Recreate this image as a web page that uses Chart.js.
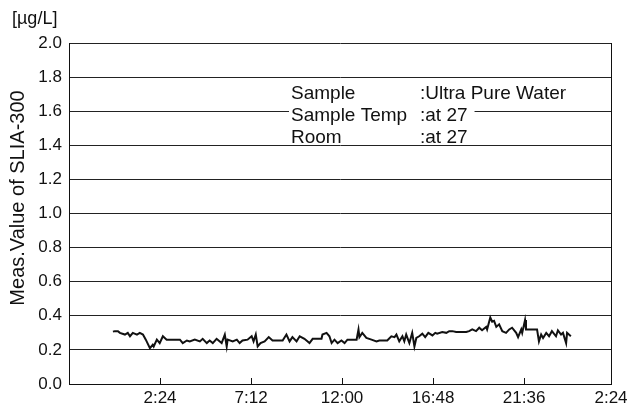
<!DOCTYPE html>
<html>
<head>
<meta charset="utf-8">
<script src="https://cdn.jsdelivr.net/npm/chart.js@4/dist/chart.umd.min.js"></script>
<style>
html,body{margin:0;padding:0;background:#fff;}
#wrap{width:630px;height:405px;position:relative;}
</style>
</head>
<body>
<div id="wrap"><canvas id="c" width="630" height="405"></canvas></div>
<script>
// minutes from the left edge of the time axis (21:36 of the previous day)
const timesMin = [139,145,155,161,177,186,193,202,215,224,234,243,256,265,268,278,287,297,309,319,351,360,373,382,398,414,423,436,445,455,467,483,493,499,502,518,531,540,549,565,578,584,591,597,606,619,632,644,676,688,698,707,720,730,745,761,771,786,799,802,815,824,831,840,850,862,872,881,910,916,919,928,941,957,973,982,1007,1020,1030,1036,1045,1055,1061,1067,1077,1086,1093,1099,1108,1118,1127,1137,1150,1159,1165,1181,1194,1203,1213,1225,1257,1266,1276,1288,1298,1307,1320,1323,1333,1339,1345,1352,1361,1371,1383,1393,1402,1415,1421,1431,1434,1443,1446,1456,1481,1487,1494,1500,1510,1519,1528,1541,1547,1557,1563,1573,1576,1588];
const measValues = [0.307,0.31,0.31,0.30,0.29,0.30,0.28,0.30,0.29,0.30,0.29,0.26,0.21,0.23,0.22,0.26,0.24,0.28,0.26,0.26,0.26,0.24,0.255,0.25,0.26,0.25,0.265,0.24,0.255,0.24,0.265,0.24,0.29,0.22,0.26,0.25,0.26,0.24,0.255,0.26,0.28,0.25,0.29,0.22,0.24,0.25,0.275,0.255,0.255,0.29,0.25,0.275,0.25,0.28,0.265,0.24,0.265,0.265,0.265,0.29,0.30,0.28,0.24,0.26,0.24,0.255,0.24,0.26,0.26,0.32,0.275,0.30,0.27,0.26,0.25,0.255,0.255,0.28,0.275,0.29,0.25,0.28,0.25,0.29,0.24,0.30,0.22,0.27,0.28,0.295,0.275,0.30,0.285,0.30,0.295,0.305,0.30,0.31,0.31,0.305,0.305,0.31,0.32,0.31,0.33,0.315,0.335,0.32,0.39,0.365,0.37,0.335,0.35,0.31,0.30,0.32,0.33,0.30,0.275,0.32,0.30,0.375,0.32,0.32,0.32,0.25,0.29,0.27,0.30,0.28,0.31,0.28,0.315,0.29,0.30,0.24,0.30,0.28];
const xTickValues = [288,576,864,1152,1440,1715];
const xTickLabels = ['2:24','7:12','12:00','16:48','21:36','2:24'];
const xMin = 0, xMax = 1715;
const yMin = 0, yMax = 2.0, yStep = 0.2;
const unitLabel = '[µg/L]';
const yTitle = 'Meas.Value of SLIA-300';
const noteKeys = ['Sample','Sample Temp','Room'];
const noteVals = [':Ultra Pure Water',':at 27',':at 27'];

const FONT = "'Liberation Sans', Arial, Helvetica, sans-serif";

const extras = {
  id: 'extras',
  afterDraw(chart) {
    const ctx = chart.ctx, a = chart.chartArea, xs = chart.scales.x;
    ctx.save();
    ctx.strokeStyle = '#111'; ctx.lineWidth = 1;
    // right border
    ctx.beginPath(); ctx.moveTo(Math.round(a.right)+0.5, a.top); ctx.lineTo(Math.round(a.right)+0.5, a.bottom); ctx.stroke();
    // inward tick marks on the time axis
    xTickValues.slice(0, -1).forEach(v => {
      const px = Math.round(xs.getPixelForValue(v)) + 0.5;
      ctx.beginPath(); ctx.moveTo(px, a.bottom); ctx.lineTo(px, a.bottom - 6); ctx.stroke();
    });
    // unit label
    ctx.fillStyle = '#111';
    ctx.font = '18px ' + FONT;
    ctx.textAlign = 'left'; ctx.textBaseline = 'middle';
    ctx.fillText(unitLabel, 12, 19);
    // y title
    ctx.save();
    ctx.translate(18, 198);
    ctx.rotate(-Math.PI/2);
    ctx.textAlign = 'center';
    ctx.font = '20px ' + FONT;
    ctx.fillText(yTitle, 0, 0);
    ctx.restore();
    // annotation
    ctx.font = '19px ' + FONT;
    const x1 = a.left + 222, x2 = a.left + 351;
    for (let i = 0; i < noteKeys.length; i++) {
      const y = a.top + 51 + i * 22;
      const w2 = ctx.measureText(noteVals[i]).width;
      ctx.fillStyle = '#fff';
      ctx.fillRect(x1 - 2, y - 9, (x2 + w2 + 7) - (x1 - 2), 16);
      ctx.fillStyle = '#111';
      ctx.fillText(noteKeys[i], x1, y);
      ctx.fillText(noteVals[i], x2, y);
    }
    ctx.restore();
  }
};

new Chart(document.getElementById('c'), {
  type: 'line',
  data: {
    datasets: [{
      data: timesMin.map((t, i) => ({x: t, y: measValues[i]})),
      borderColor: '#111',
      borderWidth: 2,
      pointRadius: 0,
      tension: 0,
      fill: false
    }]
  },
  options: {
    responsive: false,
    animation: false,
    events: [],
    layout: { padding: { top: 43, right: 19, left: 0, bottom: 0 } },
    plugins: { legend: { display: false }, tooltip: { enabled: false } },
    scales: {
      x: {
        type: 'linear',
        min: xMin, max: xMax,
        afterBuildTicks: s => { s.ticks = xTickValues.map(v => ({value: v})); },
        afterFit: s => { s.height = 21; s.paddingRight = 0; s.paddingLeft = 0; },
        grid: { drawOnChartArea: false, drawTicks: false },
        border: { display: true, color: '#111', width: 1 },
        ticks: {
          autoSkip: false, maxRotation: 0, padding: 4,
          color: '#111', font: { family: FONT, size: 17 },
          callback: (v, i) => xTickLabels[i]
        }
      },
      y: {
        min: yMin, max: yMax,
        afterFit: s => { s.width = 69; },
        grid: { drawTicks: false, color: '#222', lineWidth: 1 },
        border: { display: true, color: '#111', width: 1 },
        ticks: {
          stepSize: yStep, padding: 7,
          color: '#111', font: { family: FONT, size: 17 },
          callback: v => Number(v).toFixed(1)
        }
      }
    }
  },
  plugins: [extras]
});
</script>
</body>
</html>
